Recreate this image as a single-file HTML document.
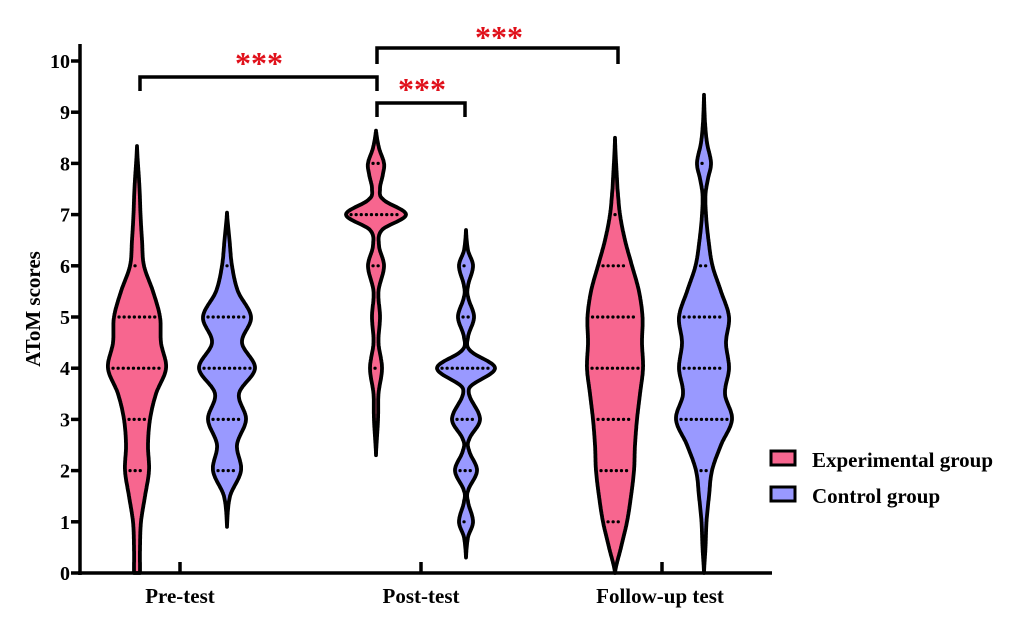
<!DOCTYPE html>
<html><head><meta charset="utf-8"><style>
html,body{margin:0;padding:0;background:#fff;}
svg{display:block;font-family:"Liberation Serif",serif;font-weight:bold;}
</style></head><body>
<svg id="s" width="1024" height="623" viewBox="0 0 1024 623" xmlns="http://www.w3.org/2000/svg">
<g id="v"></g>
<g stroke="#000" stroke-width="3.5" fill="none">
<line x1="80" y1="44" x2="80" y2="575"/>
<line x1="78" y1="573" x2="772" y2="573"/>
<line x1="180" y1="573" x2="180" y2="562"/>
<line x1="421" y1="573" x2="421" y2="562"/>
<line x1="662" y1="573" x2="662" y2="562"/>
</g>
<g id="yt" stroke="#000" stroke-width="3.5"></g>
<g id="yl" font-size="20" text-anchor="end"></g>
<g font-size="21" text-anchor="middle">
<text x="180" y="603">Pre-test</text>
<text x="421" y="603">Post-test</text>
<text x="660" y="603">Follow-up test</text>
</g>
<text transform="translate(40,309) rotate(-90)" font-size="21" text-anchor="middle">AToM scores</text>
<g stroke="#000" stroke-width="3.5" fill="none">
<polyline points="140,91 140,77 377,77 377,91"/>
<polyline points="377,117 377,103 465,103 465,117"/>
<polyline points="377,64 377,48 618,48 618,64"/>
</g>
<g fill="#e0101a" font-size="32" text-anchor="middle">
<text x="259" y="74">***</text>
<text x="422" y="100">***</text>
<text x="499" y="48">***</text>
</g>
<rect x="771" y="451" width="24" height="14" fill="#F7668F" stroke="#000" stroke-width="3"/>
<rect x="771" y="487" width="24" height="14" fill="#9999FF" stroke="#000" stroke-width="3"/>
<g font-size="21"><text x="812" y="467">Experimental group</text><text x="812" y="503">Control group</text></g>
</svg>
<script>
var NS="http://www.w3.org/2000/svg";
function Y(v){return 573-51.2*v;}
function el(p,t,a){var e=document.createElementNS(NS,t);for(var k in a)e.setAttribute(k,a[k]);p.appendChild(e);return e;}
var yt=document.getElementById('yt'),yl=document.getElementById('yl');
for(var i=0;i<=10;i++){el(yt,'line',{x1:71,x2:80,y1:Y(i),y2:Y(i)});var t=el(yl,'text',{x:70,y:Y(i)+7});t.textContent=i;}
var V=[
[137,'#F7668F',[[0,3],[0.5,3],[1,4],[1.5,8],[2,12],[2.5,11],[3,13],[3.5,19],[4,29],[4.5,24],[5,23],[5.5,16],[6,7],[6.5,5],[7,3.5],[7.5,2.5],[8.35,0]]],
[227,'#9999FF',[[0.9,0],[1.5,3],[2,14],[2.5,10],[3,19],[3.5,12],[4,28],[4.5,15],[5,24],[5.5,11],[6,5],[6.5,2.5],[7.05,0]]],
[376,'#F7668F',[[2.3,0],[3,2],[3.5,2.5],[4,6],[4.5,2.5],[5,4],[5.5,2.5],[6,8],[6.4,3],[6.7,6],[7,30],[7.3,7],[7.5,4],[7.8,7],[8,8],[8.3,3],[8.65,0]]],
[466,'#9999FF',[[0.3,0],[0.7,2],[1,7],[1.4,2],[1.6,2],[2,11],[2.4,3],[2.6,3],[3,14],[3.6,3],[4,29],[4.35,4],[4.6,2],[5,8],[5.4,2],[5.6,2],[6,7],[6.3,2],[6.7,0]]],
[615,'#F7668F',[[0,0],[0.5,6],[1,12],[1.5,16],[2,19],[2.5,20],[3,22],[3.5,25],[4,28],[4.5,27],[5,27.5],[5.5,24],[6,17],[6.5,10],[7,5],[7.5,2.5],[8.5,0]]],
[704,'#9999FF',[[0,0],[0.5,1.5],[1,2.5],[1.5,5],[2,8],[2.5,17],[3,28],[3.5,21],[4,25],[4.5,22],[5,25],[5.5,17],[6,8.5],[6.5,4.5],[7,2],[7.4,1.5],[7.7,4],[8,7],[8.4,3],[8.8,1],[9.35,0]]]
];
var g=document.getElementById('v');
function interp(p,v){for(var i=0;i<p.length-1;i++){if(v>=p[i][0]&&v<=p[i+1][0]){var t=(v-p[i][0])/(p[i+1][0]-p[i][0]);var a=p[Math.max(i-1,0)],b=p[i],c=p[i+1],d=p[Math.min(i+2,p.length-1)];
var m1=(c[1]-a[1])/2,m2=(d[1]-b[1])/2,t2=t*t,t3=t2*t;return Math.max(0,(2*t3-3*t2+1)*b[1]+(t3-2*t2+t)*m1+(-2*t3+3*t2)*c[1]+(t3-t2)*m2);}}return 0;}
V.forEach(function(o){var cx=o[0],p=o[2],lo=p[0][0],hi=p[p.length-1][0],R=[],L=[];
for(var v=lo;v<=hi+1e-9;v+=0.02){var w=interp(p,Math.min(v,hi));R.push((cx+w).toFixed(1)+','+Y(v).toFixed(1));L.unshift((cx-w).toFixed(1)+','+Y(v).toFixed(1));}
el(g,'path',{d:'M'+R.join(' L')+' L'+L.join(' L')+'Z',fill:o[1],stroke:'#000','stroke-width':3.8,'stroke-linejoin':'round'});
for(var k=Math.ceil(lo);k<=hi;k++){var w=interp(p,k);if(w>4)el(g,'line',{x1:cx-w+5,x2:cx+w-5,y1:Y(k),y2:Y(k),stroke:'#000','stroke-width':3.2,'stroke-dasharray':'0.1 5','stroke-linecap':'round'});}
});
</script>
</body></html>
